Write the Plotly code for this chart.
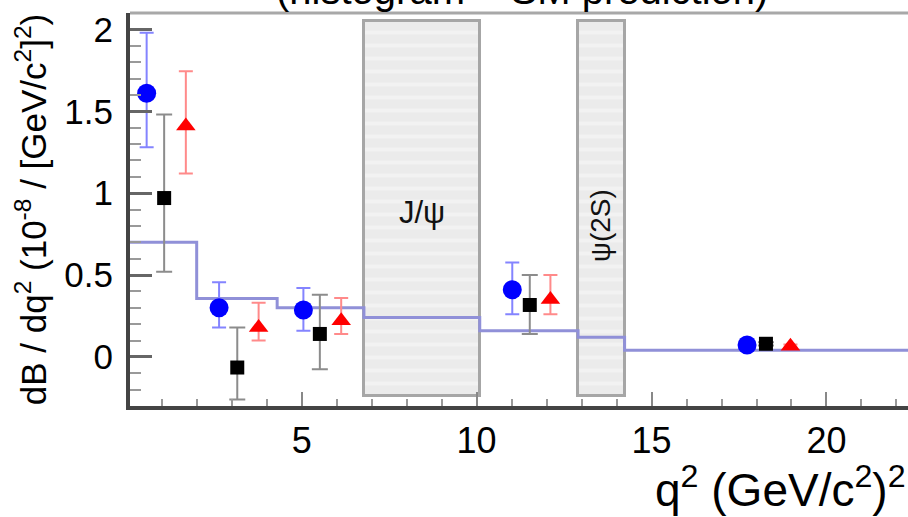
import plotly.graph_objects as go

# ---- data ----
# circles (blue)
blue_x = [0.57, 2.64, 5.05, 11.02, 17.73]
blue_y = [1.61, 0.30, 0.286, 0.41, 0.072]
blue_up = [0.37, 0.155, 0.134, 0.166, 0.01]
blue_dn = [0.33, 0.12, 0.126, 0.15, 0.01]

# squares (black)
black_x = [1.07, 3.16, 5.52, 11.52, 18.27]
black_y = [0.97, -0.065, 0.14, 0.317, 0.08]
black_up = [0.51, 0.245, 0.24, 0.183, 0.01]
black_dn = [0.45, 0.195, 0.215, 0.177, 0.01]

# triangles (red)
red_x = [1.69, 3.77, 6.13, 12.11, 18.97]
red_y = [1.41, 0.18, 0.22, 0.35, 0.065]
red_up = [0.335, 0.15, 0.14, 0.15, 0.01]
red_dn = [0.29, 0.08, 0.08, 0.09, 0.01]

# SM prediction histogram
hist_edges = [0.0, 2.0, 4.3, 6.78, 10.09, 12.9, 14.23, 23.0]
hist_vals = [0.70, 0.357, 0.30, 0.24, 0.16, 0.12, 0.04]

# charmonium veto regions
veto_lo = [6.78, 12.9]
veto_hi = [10.09, 14.23]
veto_labels = ["J/ψ", "ψ(2S)"]

x_ticks = [5, 10, 15, 20]
y_ticks = [0, 0.5, 1, 1.5, 2]

fig = go.Figure()

# veto boxes
box_bottom, box_top = -0.24, 2.05
for lo, hi in zip(veto_lo, veto_hi):
    fig.add_trace(go.Bar(
        x=[(lo + hi) / 2], y=[box_top - box_bottom], base=[box_bottom],
        width=[hi - lo],
        marker=dict(color="#ececec",
                    line=dict(color="#a6a6a6", width=3),
                    pattern=dict(shape="-", fgcolor="#fafafa", bgcolor="#ebebeb",
                                 size=13, solidity=0.3)),
        showlegend=False, hoverinfo="skip"))

# histogram steps
hx = hist_edges
hy = hist_vals + [hist_vals[-1]]
fig.add_trace(go.Scatter(x=hx, y=hy, mode="lines", line_shape="hv",
                         line=dict(color="#9090d8", width=3),
                         showlegend=False, hoverinfo="skip"))

def pts(x, y, up, dn, color, ecolor, symbol, size, cap):
    fig.add_trace(go.Scatter(
        x=x, y=y, mode="markers",
        marker=dict(color=color, symbol=symbol, size=size, line=dict(width=0)),
        error_y=dict(type="data", symmetric=False, array=up, arrayminus=dn,
                     color=ecolor, thickness=2, width=cap),
        showlegend=False))

pts(blue_x, blue_y, blue_up, blue_dn, "#0000ff", "#8484ff", "circle", 19, 7)
pts(black_x, black_y, black_up, black_dn, "#000000", "#8c8c8c", "square", 14, 8)
pts(red_x, red_y, red_up, red_dn, "#ff0000", "#ff8a8a", "triangle-up", 17, 7)

# labels in veto boxes
fig.add_annotation(x=8.45, y=0.88, text=veto_labels[0], showarrow=False,
                   font=dict(family="Liberation Sans, Arial", size=31, color="#111"))
fig.add_annotation(x=13.56, y=0.80, text=veto_labels[1], showarrow=False, textangle=-90,
                   font=dict(family="Liberation Sans, Arial", size=28, color="#111"))

# top title (cut off)
fig.add_annotation(xref="paper", yref="paper", x=0.504, y=1.0, yanchor="bottom",
                   yshift=-1, text="(histogram = SM prediction)", showarrow=False,
                   font=dict(family="Liberation Sans, Arial", size=40, color="#000"))

# top frame line
fig.add_shape(type="line", xref="paper", yref="paper", x0=0, x1=1, y0=1, y1=1,
              line=dict(color="#a8a8a8", width=3))

# x-axis title
fig.add_annotation(xref="paper", yref="paper", x=1.0, xanchor="right", y=-0.285,
                   yanchor="bottom", text="q<sup>2</sup> (GeV/c<sup>2</sup>)<sup>2</sup>",
                   showarrow=False,
                   font=dict(family="Liberation Sans, Arial", size=46, color="#000"))

fig.update_layout(
    width=908, height=517,
    margin=dict(l=130, r=0, t=13, b=111, autoexpand=False),
    plot_bgcolor="white", paper_bgcolor="white",
    bargap=0, barmode="overlay",
    font=dict(family="Liberation Sans, Arial", color="#000"),
)
fig.update_xaxes(range=[0.094, 22.33], tickvals=x_ticks, ticktext=[str(v) for v in x_ticks],
                 ticks="inside", ticklen=14, tickwidth=2, tickcolor="#888",
                 minor=dict(ticks="inside", ticklen=7, dtick=1, tick0=0, tickcolor="#999", tickwidth=2),
                 showline=True, linecolor="#444", linewidth=4, showgrid=False, zeroline=False,
                 tickfont=dict(size=36), fixedrange=True, automargin=False)
fig.update_yaxes(range=[-0.30, 2.10], tickvals=y_ticks, ticktext=["0", "0.5", "1", "1.5", "2"],
                 ticks="inside", ticklen=22, tickwidth=3, tickcolor="#666",
                 minor=dict(ticks="inside", ticklen=11, dtick=0.1, tick0=0, tickcolor="#999", tickwidth=2),
                 showline=True, linecolor="#444", linewidth=4, showgrid=False, zeroline=False,
                 tickfont=dict(size=35), ticklabelstandoff=6, automargin=False,
                 title=dict(text="dB / dq<sup>2</sup> (10<sup>-8</sup> / [GeV/c<sup>2</sup>]<sup>2</sup>)",
                            font=dict(size=35), standoff=8))

fig.write_html("out.html", config={"displayModeBar": False},
               post_script="document.body.style.margin='0';")
